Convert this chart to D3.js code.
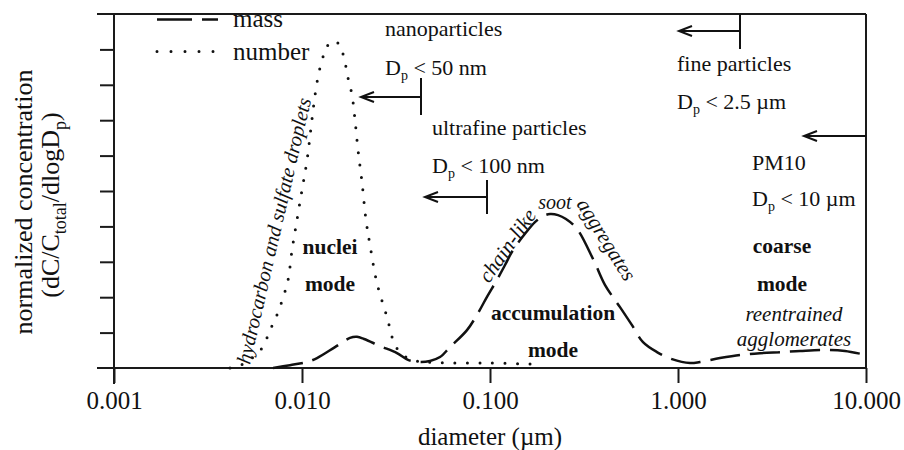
<!DOCTYPE html>
<html>
<head>
<meta charset="utf-8">
<script src="https://cdn.jsdelivr.net/npm/d3@7"></script>
<style>
  html, body { margin: 0; padding: 0; background: #fff; }
  svg { display: block; }
  text { font-family: "Liberation Serif", "DejaVu Serif", serif; fill: #111; }
</style>
</head>
<body>
<svg id="chart" width="904" height="450"></svg>
<script>
// ---- data (diameter in µm, normalized concentration) ----
const xTickValues = [0.001, 0.01, 0.1, 1, 10];
const xTickLabels = ["0.001", "0.010", "0.100", "1.000", "10.000"];
const yTickValues = [0, 1, 2, 3, 4, 5, 6, 7, 8, 9, 10];

const numberDiam = [0.00414, 0.00498, 0.00612, 0.00676, 0.00736, 0.00792, 0.00843, 0.00885, 0.0094, 0.0100,
  0.01064, 0.01116, 0.01173, 0.01232, 0.01309, 0.01374, 0.01462, 0.01574, 0.01673, 0.01757,
  0.01845, 0.01914, 0.01986, 0.02085, 0.0219, 0.0230, 0.02505, 0.02832, 0.03125, 0.03445,
  0.03846, 0.0451, 0.06125, 0.100, 0.1633];
const numberConc = [0.00, 0.14, 0.56, 1.07, 1.50, 1.98, 2.49, 3.33, 4.18, 5.03,
  5.88, 6.78, 7.71, 8.36, 8.87, 9.12, 9.24, 9.15, 8.76, 8.19,
  7.71, 7.01, 6.16, 5.25, 4.18, 3.47, 2.40, 1.44, 0.65, 0.37,
  0.23, 0.17, 0.14, 0.14, 0.11];

const massDiam = [0.00702, 0.00863, 0.01064, 0.01202, 0.01498, 0.0180, 0.01962, 0.02138, 0.0260, 0.03201,
  0.03662, 0.04243, 0.04795, 0.0542, 0.06125, 0.07545, 0.08635, 0.09638, 0.1089, 0.1202,
  0.1325, 0.1535, 0.1734, 0.1914, 0.2085, 0.2300, 0.2535, 0.2904, 0.3532, 0.4093,
  0.4624, 0.4914, 0.5692, 0.6515, 0.7727, 0.9290, 1.159, 1.309, 1.671, 2.137,
  2.730, 3.574, 4.455, 6.207, 7.727, 10.0];
const massConc = [0.00, 0.08, 0.17, 0.28, 0.59, 0.85, 0.88, 0.82, 0.62, 0.42,
  0.23, 0.17, 0.20, 0.31, 0.59, 1.07, 1.55, 2.01, 2.49, 2.91,
  3.33, 3.79, 4.12, 4.29, 4.35, 4.32, 4.21, 3.93, 3.08, 2.34,
  1.92, 1.72, 1.21, 0.73, 0.45, 0.25, 0.14, 0.17, 0.28, 0.37,
  0.42, 0.45, 0.48, 0.51, 0.48, 0.37];

// ---- layout ----
const svg = d3.select("#chart");
const mLeft = 114, mRight = 866, mTop = 14, mBottom = 368;
const x = d3.scaleLog().domain([0.001, 10]).range([mLeft, mRight]);
const y = d3.scaleLinear().domain([0, 10]).range([mBottom, mTop]);

const axisColor = "#1a1a1a";

// frame: top and right
svg.append("line").attr("x1", 97).attr("x2", mRight).attr("y1", y(10)).attr("y2", y(10))
  .attr("stroke", axisColor).attr("stroke-width", 2);
svg.append("line").attr("x1", mRight).attr("x2", mRight).attr("y1", y(10)).attr("y2", y(0))
  .attr("stroke", axisColor).attr("stroke-width", 2);

// x axis
const xAxis = d3.axisBottom(x).tickValues(xTickValues)
  .tickFormat((d, i) => xTickLabels[i]).tickSizeInner(15).tickSizeOuter(0).tickPadding(8);
const gx = svg.append("g").attr("transform", `translate(0,${mBottom})`).call(xAxis);
gx.select(".domain").remove();
gx.append("line").attr("x1", 97).attr("x2", mRight).attr("y1", 0).attr("y2", 0)
  .attr("stroke", axisColor).attr("stroke-width", 2);
gx.selectAll(".tick line").attr("stroke", axisColor).attr("stroke-width", 2);
gx.selectAll(".tick text").attr("font-size", 25).attr("fill", "#111")
  .attr("font-family", "Liberation Serif").attr("dy", "0.71em");

// y axis
const yAxis = d3.axisLeft(y).tickValues(yTickValues.slice(1, 10)).tickFormat("")
  .tickSizeInner(14).tickSizeOuter(0);
const gy = svg.append("g").attr("transform", `translate(${mLeft},0)`).call(yAxis);
gy.select(".domain").remove();
gy.append("line").attr("x1", 0).attr("x2", 0).attr("y1", y(10)).attr("y2", y(0) + 16)
  .attr("stroke", axisColor).attr("stroke-width", 2);
gy.selectAll(".tick line").attr("stroke", axisColor).attr("stroke-width", 2);

// curves
const numberData = numberDiam.map((d, i) => [d, numberConc[i]]);
const massData = massDiam.map((d, i) => [d, massConc[i]]);
const line = d3.line().x(d => x(d[0])).y(d => y(d[1])).curve(d3.curveCatmullRom.alpha(0.5));

svg.append("path").attr("d", line(numberData)).attr("fill", "none")
  .attr("stroke", "#111").attr("stroke-width", 3).attr("stroke-linecap", "round")
  .attr("stroke-dasharray", "0,12.5");
svg.append("path").attr("d", line(massData)).attr("fill", "none")
  .attr("stroke", "#111").attr("stroke-width", 2.5).attr("stroke-dasharray", "30,10");

// legend
svg.append("path").attr("d", "M157,19.5H218").attr("stroke", "#111").attr("stroke-width", 2.6)
  .attr("stroke-dasharray", "35,10").attr("fill", "none");
svg.append("path").attr("d", "M157,51.5H215").attr("stroke", "#111").attr("stroke-width", 3)
  .attr("stroke-linecap", "round").attr("stroke-dasharray", "0,14").attr("fill", "none");
svg.append("text").attr("x", 233).attr("y", 27).attr("font-size", 25).text("mass");
svg.append("text").attr("x", 233).attr("y", 60).attr("font-size", 25).text("number");

// helpers
function dpText(xp, yp, rest) {
  const t = svg.append("text").attr("x", xp).attr("y", yp).attr("font-size", 22);
  t.append("tspan").text("D");
  t.append("tspan").attr("font-size", 14).attr("dy", 5).text("p");
  t.append("tspan").attr("dy", -5).text(rest);
}
function plain(xp, yp, s, opts = {}) {
  const t = svg.append("text").attr("x", xp).attr("y", yp)
    .attr("font-size", opts.size || 22).text(s);
  if (opts.bold) t.attr("font-weight", "bold");
  if (opts.italic) t.attr("font-style", "italic");
  if (opts.anchor) t.attr("text-anchor", opts.anchor);
  if (opts.rotate !== undefined) t.attr("transform", `rotate(${opts.rotate},${xp},${yp})`);
  return t;
}
function bracketArrow(xBar, yTop, yBot, yArrow, xTip) {
  const g = svg.append("g").attr("stroke", "#111").attr("stroke-width", 2).attr("fill", "none");
  if (yTop !== null) g.append("line").attr("x1", xBar).attr("x2", xBar).attr("y1", yTop).attr("y2", yBot);
  g.append("line").attr("x1", xTip).attr("x2", xBar).attr("y1", yArrow).attr("y2", yArrow);
  g.append("path").attr("d", `M${xTip + 13},${yArrow - 5} L${xTip},${yArrow} L${xTip + 13},${yArrow + 5}`);
}

// annotations: size classes
plain(385, 36, "nanoparticles");
dpText(385, 75, " < 50 nm");
bracketArrow(421, 78, 115, 97, 361);

plain(432, 135, "ultrafine particles");
dpText(432, 173, " < 100 nm");
bracketArrow(487, 180, 214, 197, 425);

bracketArrow(740, mTop, 49, 31, 679);
plain(677, 71, "fine particles");
dpText(677, 109, " < 2.5 µm");

bracketArrow(mRight, null, null, 136, 804);
plain(752, 170, "PM10");
dpText(752, 206, " < 10 µm");

// modes
plain(330, 254, "nuclei", { bold: true, anchor: "middle", size: 21.5 });
plain(330, 291, "mode", { bold: true, anchor: "middle", size: 21.5 });
plain(553, 320, "accumulation", { bold: true, anchor: "middle", size: 21.5 });
plain(553, 357, "mode", { bold: true, anchor: "middle", size: 21.5 });
plain(782, 253, "coarse", { bold: true, anchor: "middle", size: 21.5 });
plain(782, 291, "mode", { bold: true, anchor: "middle", size: 21.5 });

plain(794, 321, "reentrained", { italic: true, anchor: "middle", size: 21 });
plain(794, 346, "agglomerates", { italic: true, anchor: "middle", size: 21 });

plain(250, 365, "hydrocarbon and sulfate droplets", { italic: true, size: 20.5, rotate: -77 });
plain(489, 284, "chain-like", { italic: true, size: 21, rotate: -55 });
plain(555, 209, "soot", { italic: true, size: 20, anchor: "middle" });
plain(576, 204, "aggregates", { italic: true, size: 21, rotate: 58 });

// axis titles
svg.append("text").attr("text-anchor", "middle").attr("font-size", 26)
  .attr("transform", "translate(32,202) rotate(-90)").text("normalized concentration");
const yl2 = svg.append("text").attr("text-anchor", "middle").attr("font-size", 26)
  .attr("transform", "translate(59,205) rotate(-90)");
yl2.append("tspan").text("(dC/C");
yl2.append("tspan").attr("font-size", 18).attr("dy", 7).text("total");
yl2.append("tspan").attr("dy", -7).text("/dlogD");
yl2.append("tspan").attr("font-size", 18).attr("dy", 7).text("p");
yl2.append("tspan").attr("dy", -7).text(")");

svg.append("text").attr("x", x(0.1)).attr("y", 445).attr("text-anchor", "middle")
  .attr("font-size", 25).text("diameter (µm)");
</script>
</body>
</html>
